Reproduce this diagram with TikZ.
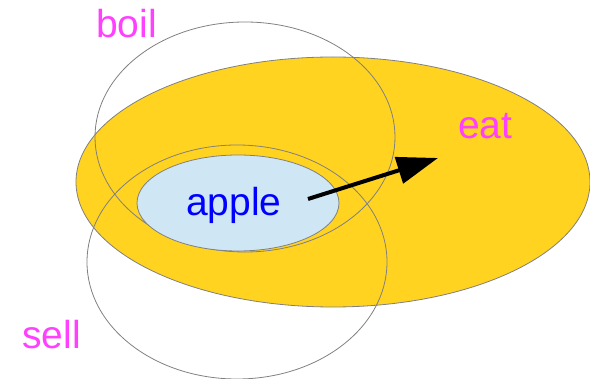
\documentclass[tikz,border=0pt]{standalone}
\usepackage{fontspec}
\setmainfont{Liberation Sans}
\usetikzlibrary{arrows.meta}
\definecolor{eatyellow}{HTML}{FFD320}
\definecolor{applefill}{HTML}{CFE7F5}
\definecolor{rim}{HTML}{808080}
\definecolor{verbpink}{HTML}{FF40FF}
\tikzset{
  setline/.style={draw=rim, line width=0.8pt},
  verb/.style={text=verbpink, font=\fontsize{39}{39}\selectfont, inner sep=0pt, anchor=base west},
  noun/.style={text=blue, font=\fontsize{39}{39}\selectfont, inner sep=0pt, anchor=base west},
  pointer/.style={line width=4pt, -{Triangle[length=41pt, width=27pt]}}
}
\begin{document}
\begin{tikzpicture}[x=1pt, y=-1pt]
  \useasboundingbox (0,0) rectangle (590,379);
  % sets
  \fill[eatyellow] (333,182) ellipse [x radius=257, y radius=125];
  \draw[setline] (333,182) ellipse [x radius=257, y radius=125];
  \draw[setline] (245,137) ellipse [x radius=150, y radius=115];
  \draw[setline] (237,262) ellipse [x radius=150, y radius=117];
  \draw[setline, fill=applefill] (238,203) ellipse [x radius=101, y radius=48];
  % labels
  \node[verb] (boil) at (96,38) {boil};
  \node[verb] (eat) at (458,139) {eat};
  \node[verb] (sell) at (22,349) {sell};
  \node[noun] (apple) at (186,216) {apple};
  % arrow from the apple towards eating
  \coordinate (from) at (308,199);
  \coordinate (to) at (438,158);
  \draw[pointer] (from) -- (to);
\end{tikzpicture}
\end{document}
